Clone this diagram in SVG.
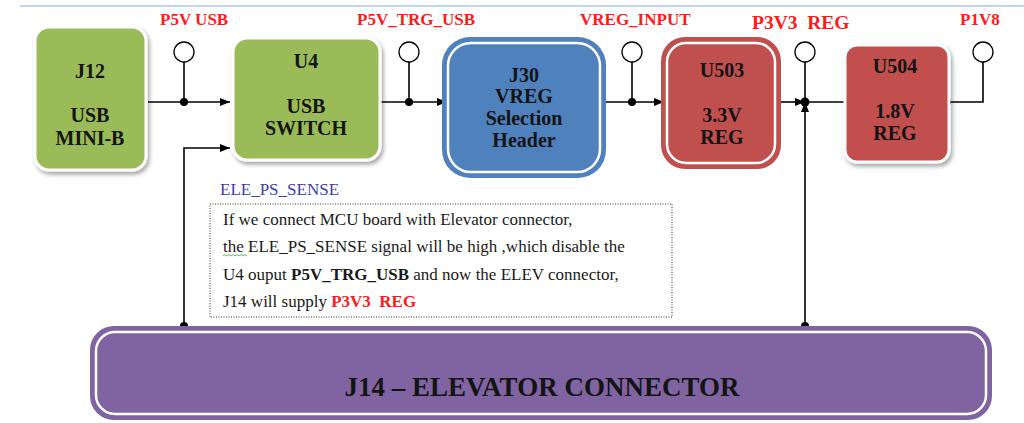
<svg xmlns="http://www.w3.org/2000/svg" width="1024" height="423" viewBox="0 0 1024 423">
<style>
  .lbl { font-family: "Liberation Serif", "Times New Roman", serif; font-weight: bold; fill: #FF1A1A; font-size: 17px; white-space: pre; }
  .bx { font-family: "Liberation Serif", "Times New Roman", serif; font-weight: bold; fill: #141414; font-size: 20px; text-anchor: middle; }
  .note { font-family: "Liberation Serif", "Times New Roman", serif; font-size: 17px; fill: #1a1a1a; white-space: pre; }
  .wire { stroke: #000; stroke-width: 1.6; fill: none; }
  .tp { stroke: #000; stroke-width: 1.3; fill: #fff; }
  .dot { fill: #000; }
  .ring { fill: none; stroke: #fff; stroke-width: 2.5; }
</style>
<defs>
  <filter id="sh" x="-10%" y="-10%" width="130%" height="130%">
    <feDropShadow dx="2" dy="3" stdDeviation="2" flood-color="#000" flood-opacity="0.35"/>
  </filter>
  <marker id="ar" viewBox="0 0 10 10" refX="10" refY="5" markerWidth="10" markerHeight="10" markerUnits="userSpaceOnUse" orient="auto">
    <path d="M0,1 L10,5 L0,9 Z" fill="#000"/>
  </marker>
</defs>
<rect width="1024" height="423" fill="#fff"/>
<line x1="20" y1="6" x2="1024" y2="6" stroke="#A9C6EC" stroke-width="1.5"/>

<g id="labels">
  <text class="lbl" x="160" y="25">P5V USB</text>
  <text class="lbl" x="357" y="25">P5V_TRG_USB</text>
  <text class="lbl" x="580" y="25">VREG_INPUT</text>
  <text class="lbl" x="752" y="29" style="font-size:19.5px">P3V3  REG</text>
  <text class="lbl" x="960" y="25">P1V8</text>
</g>

<g id="connectors">
  <line class="wire" x1="148" y1="102" x2="230" y2="102" marker-end="url(#ar)"/>
  <line class="wire" x1="380" y1="102" x2="447" y2="102" marker-end="url(#ar)"/>
  <line class="wire" x1="606" y1="102" x2="664" y2="102" marker-end="url(#ar)"/>
  <line class="wire" x1="781" y1="102" x2="805" y2="102" marker-end="url(#ar)"/>
  <line class="wire" x1="805" y1="102" x2="845" y2="102"/>
  <line class="wire" x1="805" y1="326" x2="805" y2="102" marker-end="url(#ar)"/>
  <polyline class="wire" points="949,102 983,102 983,62"/>
  <polyline class="wire" points="184,326 184,148 230,148" marker-end="url(#ar)"/>
  <line class="wire" x1="184" y1="62" x2="184" y2="102"/>
  <line class="wire" x1="409" y1="62" x2="409" y2="102"/>
  <line class="wire" x1="632" y1="62" x2="632" y2="102"/>
  <line class="wire" x1="805" y1="62" x2="805" y2="102"/>
  <circle class="tp" cx="184" cy="52" r="10"/>
  <circle class="tp" cx="409" cy="52" r="10"/>
  <circle class="tp" cx="632" cy="52" r="10"/>
  <circle class="tp" cx="805" cy="52" r="10"/>
  <circle class="tp" cx="983" cy="52" r="10"/>
  <circle class="dot" cx="184" cy="102" r="4"/>
  <circle class="dot" cx="409" cy="102" r="4"/>
  <circle class="dot" cx="632" cy="102" r="4"/>
  <circle class="dot" cx="805" cy="102" r="4.5"/>
  <circle class="dot" cx="947" cy="102" r="4"/>
  <circle class="dot" cx="184" cy="326" r="4"/>
  <circle class="dot" cx="805" cy="326" r="4"/>
</g>

<g id="J12">
  <rect x="35" y="27" width="111" height="143" rx="14" fill="#9BBB59" stroke="#fff" stroke-width="3" filter="url(#sh)"/>
  <text class="bx" x="90" y="78">J12</text>
  <text class="bx" x="90" y="122">USB</text>
  <text class="bx" x="90" y="145">MINI-B</text>
</g>

<g id="U4">
  <rect x="233" y="38" width="147" height="122" rx="14" fill="#9BBB59" stroke="#fff" stroke-width="3" filter="url(#sh)"/>
  <text class="bx" x="306" y="68">U4</text>
  <text class="bx" x="306" y="113">USB</text>
  <text class="bx" x="306" y="135">SWITCH</text>
</g>

<g id="J30">
  <rect x="442" y="37" width="164" height="141" rx="28" fill="#4F81BD"/>
  <rect class="ring" x="448" y="43" width="152" height="129" rx="23"/>
  <text class="bx" x="524" y="82">J30</text>
  <text class="bx" x="524" y="103">VREG</text>
  <text class="bx" x="524" y="125">Selection</text>
  <text class="bx" x="524" y="147">Header</text>
</g>

<g id="U503">
  <rect x="661" y="37" width="120" height="132" rx="24" fill="#C0504D"/>
  <rect class="ring" x="667" y="43" width="108" height="120" rx="19"/>
  <text class="bx" x="722" y="77">U503</text>
  <text class="bx" x="722" y="122">3.3V</text>
  <text class="bx" x="722" y="144">REG</text>
</g>

<g id="U504">
  <rect x="845" y="45" width="104" height="117" rx="12" fill="#C0504D" stroke="#fff" stroke-width="3" filter="url(#sh)"/>
  <text class="bx" x="895" y="73">U504</text>
  <text class="bx" x="895" y="118">1.8V</text>
  <text class="bx" x="895" y="140">REG</text>
</g>

<g id="J14">
  <rect x="90" y="326" width="902" height="94" rx="24" fill="#8064A2"/>
  <rect class="ring" x="96" y="332" width="890" height="82" rx="19"/>
  <text class="bx" x="542" y="396" style="font-size:27px">J14 – ELEVATOR CONNECTOR</text>
</g>

<g id="note">
  <text x="220" y="195" style="font-family:'Liberation Serif','Times New Roman',serif;font-size:17px;fill:#3C3CB0">ELE_PS_SENSE</text>
  <rect x="210" y="204" width="462" height="113" fill="none" stroke="#333" stroke-width="1" stroke-dasharray="1,1.5"/>
  <text class="note" x="223" y="225">If we connect MCU board with Elevator connector,</text>
  <text class="note" x="223" y="252">the ELE_PS_SENSE signal will be high ,which disable the</text>
  <path d="M223,256 l2,-1.5 l2,1.5 l2,-1.5 l2,1.5 l2,-1.5 l2,1.5 l2,-1.5 l2,1.5 l2,-1.5 l2,1.5 l2,-1.5 l2,1.5" fill="none" stroke="#4CAF50" stroke-width="0.9"/>
  <text class="note" x="223" y="280">U4 ouput <tspan font-weight="bold">P5V_TRG_USB</tspan> and now the ELEV connector,</text>
  <text class="note" x="223" y="307">J14 will supply <tspan font-weight="bold" fill="#FF1A1A">P3V3  REG</tspan></text>
</g>
</svg>
